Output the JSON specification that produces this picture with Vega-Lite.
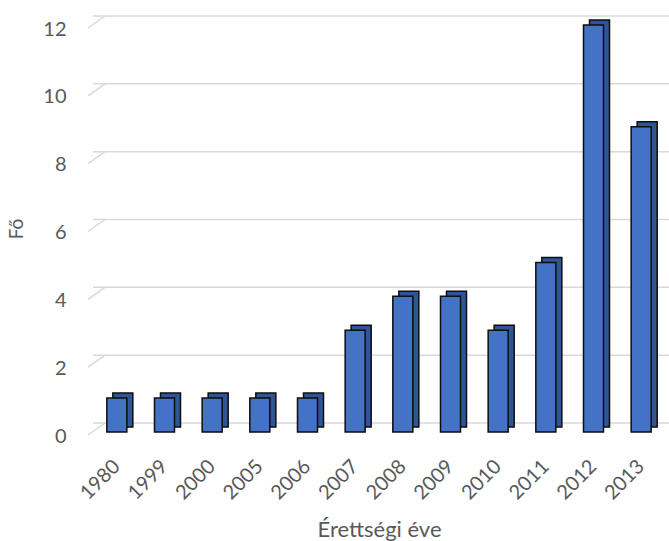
{
  "$schema": "https://vega.github.io/schema/vega-lite/v6.json",
  "autosize": "none",
  "width": 572,
  "height": 407,
  "padding": {"left": 93, "top": 25, "right": 4, "bottom": 109},
  "background": "white",
  "config": {
    "view": {"stroke": null},
    "font": "Lato",
    "axis": {"labelFont": "Lato", "titleFont": "Lato", "labelColor": "#595959", "titleColor": "#595959", "titleFontWeight": "normal"}
  },
  "datasets": {
    "counts": [
      {"ev": "1980", "fo": 1},
      {"ev": "1999", "fo": 1},
      {"ev": "2000", "fo": 1},
      {"ev": "2005", "fo": 1},
      {"ev": "2006", "fo": 1},
      {"ev": "2007", "fo": 3},
      {"ev": "2008", "fo": 4},
      {"ev": "2009", "fo": 4},
      {"ev": "2010", "fo": 3},
      {"ev": "2011", "fo": 5},
      {"ev": "2012", "fo": 12},
      {"ev": "2013", "fo": 9}
    ],
    "grid": [
      {"v": 0}, {"v": 2}, {"v": 4}, {"v": 6}, {"v": 8}, {"v": 10}, {"v": 12}
    ]
  },
  "layer": [
    {
      "data": {"name": "grid"},
      "mark": {"type": "rule", "color": "#d9d9d9", "strokeWidth": 1.5, "xOffset": 12, "yOffset": -9},
      "encoding": {
        "y": {"field": "v", "type": "quantitative", "scale": {"domain": [0, 12]}}
      }
    },
    {
      "data": {"name": "grid"},
      "mark": {"type": "rule", "color": "#d9d9d9", "strokeWidth": 1.5, "yOffset": 3, "y2Offset": -9},
      "encoding": {
        "x": {"value": -5},
        "x2": {"value": 12},
        "y": {"field": "v", "type": "quantitative"},
        "y2": {"field": "v"}
      }
    },
    {
      "data": {"name": "counts"},
      "mark": {"type": "bar", "color": "#2f5597", "stroke": "#0d0d0d", "strokeWidth": 1.5, "xOffset": 6, "yOffset": -5, "y2Offset": -5},
      "encoding": {
        "x": {"field": "ev", "type": "nominal"},
        "y": {"field": "fo", "type": "quantitative"}
      }
    },
    {
      "data": {"name": "counts"},
      "mark": {"type": "bar", "color": "#4472c4", "stroke": "#0d0d0d", "strokeWidth": 1.5},
      "encoding": {
        "x": {
          "field": "ev", "type": "nominal",
          "scale": {"paddingInner": 0.58, "paddingOuter": 0.29},
          "axis": {
            "title": "Érettségi éve", "titleFontSize": 22, "titlePadding": 17,
            "labelAngle": -45, "labelAlign": "right", "labelBaseline": "top",
            "labelFontSize": 20, "labelPadding": 24, "labelOffset": -7,
            "ticks": false, "domain": false
          }
        },
        "y": {
          "field": "fo", "type": "quantitative",
          "scale": {"domain": [0, 12]},
          "axis": {
            "title": "Fő", "titleFontSize": 19, "titlePadding": 16,
            "values": [0, 2, 4, 6, 8, 10, 12],
            "labelFontSize": 20, "labelPadding": 27, "labelOffset": 4,
            "ticks": false, "domain": false, "grid": false
          }
        }
      }
    }
  ]
}
